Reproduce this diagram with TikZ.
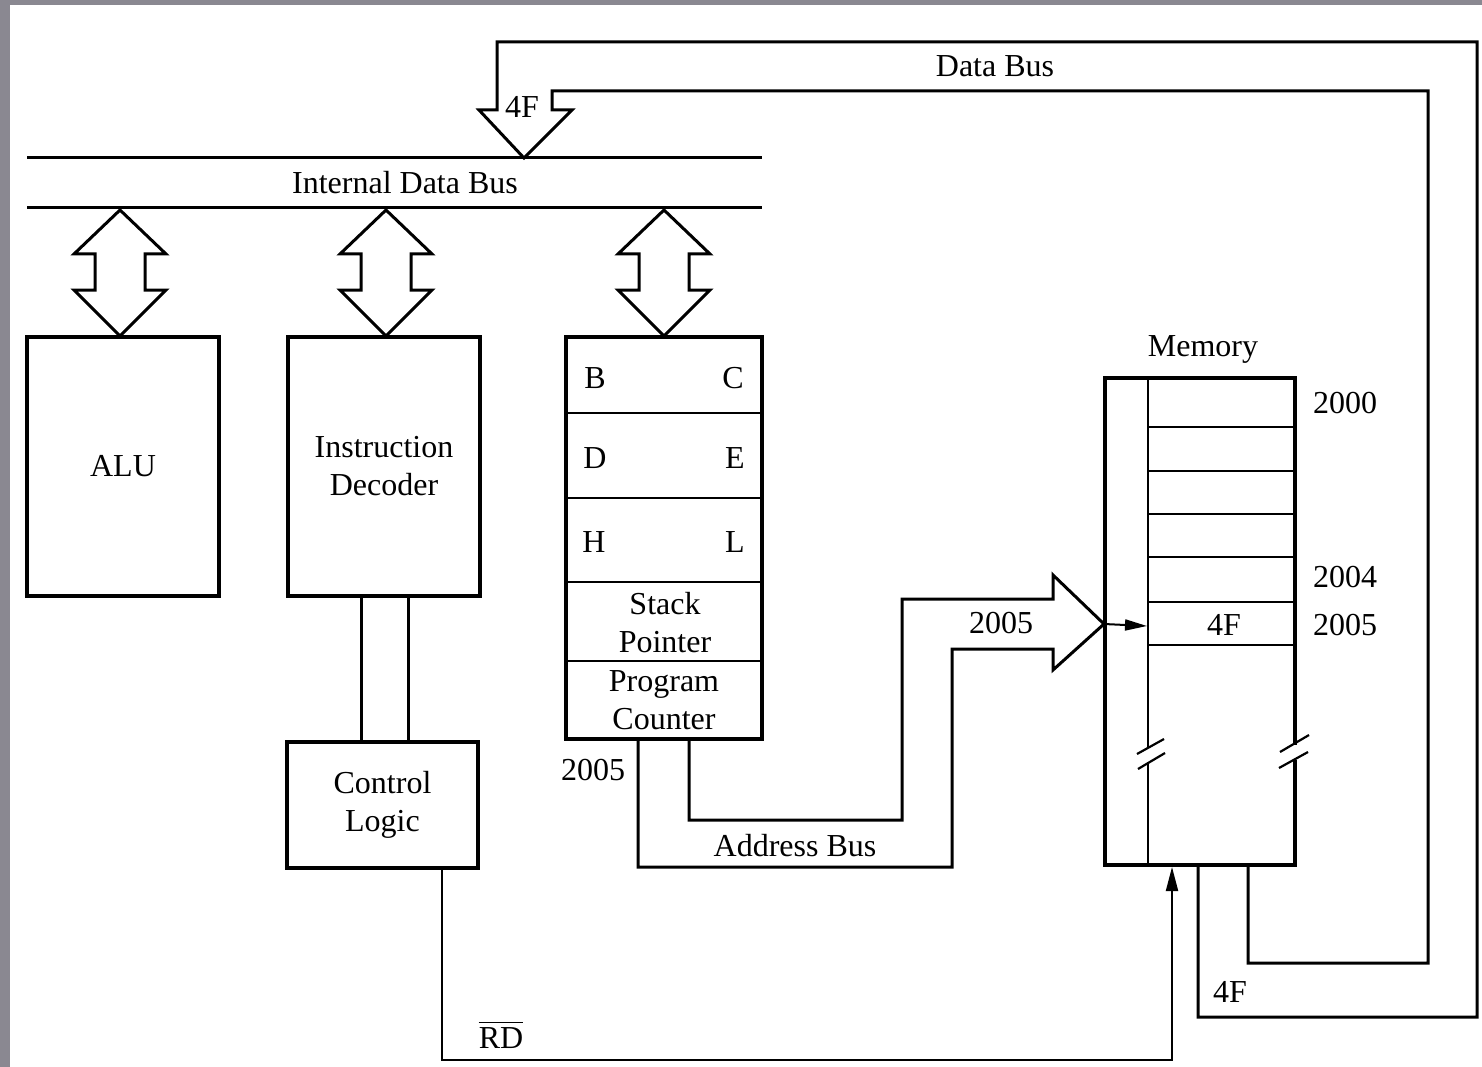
\documentclass[tikz,border=0pt]{standalone}
\usepackage{fontspec}
\setmainfont{Liberation Serif}
\usetikzlibrary{arrows.meta,calc}
\definecolor{bggray}{RGB}{138,136,145}
\begin{document}
\begin{tikzpicture}[x=1pt,y=-1pt,
  box/.style={draw,line width=4pt,inner sep=0pt,align=center,font=\fontsize{32}{38}\selectfont},
  lbl/.style={inner sep=0pt,align=center,font=\fontsize{32}{38}\selectfont},
  bus/.style={line width=3pt},
  cellline/.style={line width=2.2pt},
  sig/.style={line width=2pt},
  dblarrow/.pic={\draw[bus] (0,0) -- (46,44) -- (25,44) -- (25,80) -- (46,80) -- (0,126)
     -- (-46,80) -- (-25,80) -- (-25,44) -- (-46,44) -- cycle;},
]
\useasboundingbox (0,0) rectangle (1482,1067);
\fill[bggray] (0,0) rectangle (1482,1067);
\fill[white] (10,5) rectangle (1482,1067);

% internal data bus
\coordinate (ib1) at (27,158);
\coordinate (ib2) at (762,158);
\coordinate (ib3) at (27,208);
\coordinate (ib4) at (762,208);
\draw[bus] (ib1) -- (ib2);
\draw[bus] (ib3) -- (ib4);
\node[lbl] (ibl) at (405,183) {Internal Data Bus};

% blocks
\node[box,minimum width=192pt,minimum height=259pt] (alu) at (123,466.5) {ALU};
\node[box,minimum width=192pt,minimum height=259pt] (dec) at (384,466.5) {Instruction\\Decoder};
\node[box,minimum width=191pt,minimum height=126pt] (ctl) at (382.5,805) {Control\\Logic};
\node[box,minimum width=196pt,minimum height=402pt] (regs) at (664,538) {};

% bidirectional arrows
\pic at (120,210) {dblarrow};
\pic at (386,210) {dblarrow};
\pic at (664,210) {dblarrow};

% register file
\draw[cellline] (566,413) -- (762,413);
\draw[cellline] (566,498) -- (762,498);
\draw[cellline] (566,582) -- (762,582);
\draw[cellline] (566,661) -- (762,661);
\node[lbl] (rb) at (595,378) {B};
\node[lbl] (rc) at (733,378) {C};
\node[lbl] (rd) at (595,458) {D};
\node[lbl] (re) at (735,458) {E};
\node[lbl] (rh) at (594,542) {H};
\node[lbl] (rl) at (735,542) {L};
\node[lbl] (sp) at (665,623) {Stack\\Pointer};
\node[lbl] (pc) at (664,700) {Program\\Counter};

% decoder to control logic
\coordinate (d1) at ($(dec.south)+(-23,0)$);
\coordinate (d2) at ($(dec.south)+(24,0)$);
\draw[bus] (d1) -- (d1 |- ctl.north);
\draw[bus] (d2) -- (d2 |- ctl.north);

% memory
\node[box,minimum width=190pt,minimum height=487pt] (mem) at (1200,621.5) {};
\node[lbl] (memlbl) at (1203,349) {Memory};
\fill[white] (1291,745) rectangle (1299,760);
\draw[cellline] (1148,378) -- (1148,747);
\draw[cellline] (1148,762) -- (1148,865);
\foreach \yy in {427,471,514,557,602,645}
  \draw[cellline] (1148,\yy) -- (1295,\yy);
\draw[cellline] (1137,754) -- (1164,739);
\draw[cellline] (1138,769) -- (1165,753);
\draw[cellline] (1280,752) -- (1309,735);
\draw[cellline] (1279,768) -- (1308,752);
\node[lbl] (m4f) at (1224,625) {4F};
\node[lbl] (a2000) at (1345,403) {2000};
\node[lbl] (a2004) at (1345,577) {2004};
\node[lbl] (a2005) at (1345,625) {2005};

% address bus
\coordinate (pc1) at ($(regs.south)+(-26,0)$);
\coordinate (pc2) at ($(regs.south)+(25,0)$);
\coordinate (atip) at (1104,624);
\coordinate (minner) at (1147,626);
\draw[bus] (pc1) -- ++(0,126) -| (952,649) -- (1053,649) -- (1053,670) -- (atip)
  -- (1053,575) -- (1053,599) -| (902,820) -| (pc2);
\draw[sig,-{Triangle[length=22pt,width=11pt]}] (atip) -- (minner);
\node[lbl] (pc2005) at (593,770) {2005};
\node[lbl] (abl) at (795,846) {Address Bus};
\node[lbl] (ab2005) at (1001,623) {2005};

% data bus
\coordinate (db0) at ($(mem.south)+(-2,0)$);
\coordinate (db1) at ($(mem.south)+(48,0)$);
\coordinate (dbtip) at (524,158);
\draw[bus] (db0) -- ++(0,150) -| (1477,42) -| (497,110) -- (479,110) -- (dbtip)
  -- (572,110) -- (552,110) |- (1428,91) |- (1248,963) -- (db1);
\node[lbl] (dbl) at (995,66) {Data Bus};
\node[lbl] (db4f) at (522,107) {4F};
\node[lbl] (db4fb) at (1230,992) {4F};

% RD signal
\coordinate (rd0) at ($(ctl.south)+(59,0)$);
\coordinate (rd1) at ($(mem.south)+(-28,0)$);
\draw[sig,-{Triangle[length=24pt,width=12pt]}] (rd0) -- ++(0,190) -| (rd1);
\node[lbl] (rdl) at (501,1038) {RD};
\draw[line width=1.6pt] ($(rdl.north west)+(0,-5)$) -- ($(rdl.north east)+(0,-5)$);
\end{tikzpicture}
\end{document}
